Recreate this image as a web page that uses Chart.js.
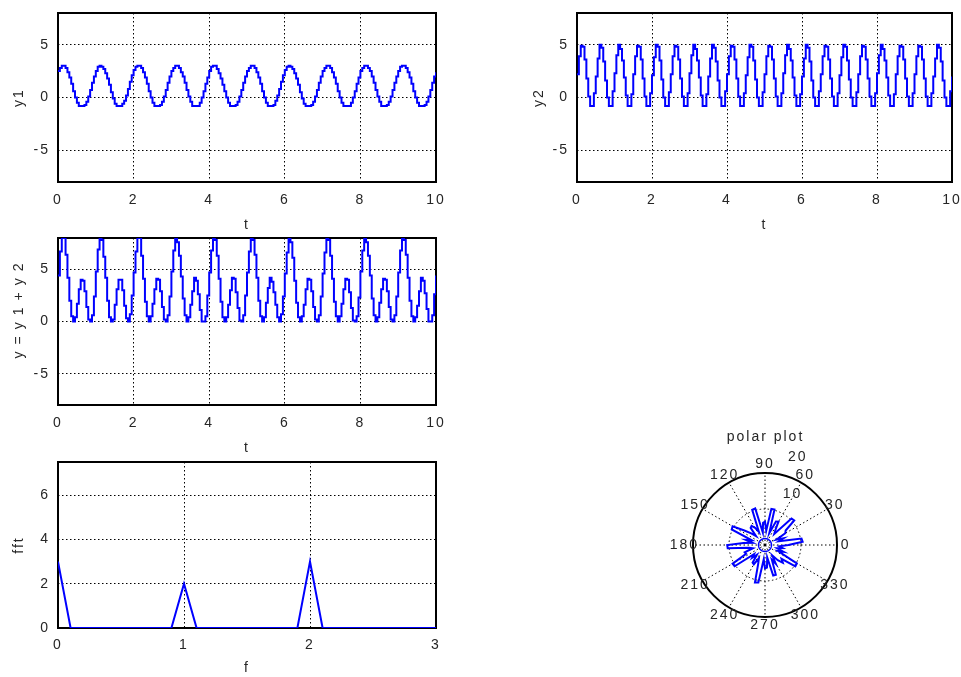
<!DOCTYPE html>
<html><head><meta charset="utf-8">
<script src="https://cdn.jsdelivr.net/npm/chart.js@4.4.1/dist/chart.umd.min.js"></script>
<style>
html,body{margin:0;padding:0;background:#fff;overflow:hidden;}
#wrap{position:relative;width:961px;height:677px;}
canvas{position:absolute;}
</style></head><body><div id="wrap">
<canvas id="c1" width="450" height="235" style="left:0px;top:0px"></canvas>
<canvas id="c2" width="441" height="235" style="left:520px;top:0px"></canvas>
<canvas id="c3" width="450" height="230" style="left:0px;top:228px"></canvas>
<canvas id="c4" width="450" height="225" style="left:0px;top:452px"></canvas>
<canvas id="c5" width="250" height="230" style="left:640px;top:420px"></canvas>
</div>
<script>
// ---------------- data ----------------
const tValues = [
0,0.05,0.1,0.15,0.2,0.25,0.3,0.35,0.4,0.45,0.5,0.55,0.6,0.65,0.7,0.75,0.8,0.85,0.9,0.95,
1,1.05,1.1,1.15,1.2,1.25,1.3,1.35,1.4,1.45,1.5,1.55,1.6,1.65,1.7,1.75,1.8,1.85,1.9,1.95,
2,2.05,2.1,2.15,2.2,2.25,2.3,2.35,2.4,2.45,2.5,2.55,2.6,2.65,2.7,2.75,2.8,2.85,2.9,2.95,
3,3.05,3.1,3.15,3.2,3.25,3.3,3.35,3.4,3.45,3.5,3.55,3.6,3.65,3.7,3.75,3.8,3.85,3.9,3.95,
4,4.05,4.1,4.15,4.2,4.25,4.3,4.35,4.4,4.45,4.5,4.55,4.6,4.65,4.7,4.75,4.8,4.85,4.9,4.95,
5,5.05,5.1,5.15,5.2,5.25,5.3,5.35,5.4,5.45,5.5,5.55,5.6,5.65,5.7,5.75,5.8,5.85,5.9,5.95,
6,6.05,6.1,6.15,6.2,6.25,6.3,6.35,6.4,6.45,6.5,6.55,6.6,6.65,6.7,6.75,6.8,6.85,6.9,6.95,
7,7.05,7.1,7.15,7.2,7.25,7.3,7.35,7.4,7.45,7.5,7.55,7.6,7.65,7.7,7.75,7.8,7.85,7.9,7.95,
8,8.05,8.1,8.15,8.2,8.25,8.3,8.35,8.4,8.45,8.5,8.55,8.6,8.65,8.7,8.75,8.8,8.85,8.9,8.95,
9,9.05,9.1,9.15,9.2,9.25,9.3,9.35,9.4,9.45,9.5,9.55,9.6,9.65,9.7,9.75,9.8,9.85,9.9,9.95,
10];

const y1Values = [
2.5,2.8,3.0,3.0,2.8,2.4,1.9,1.3,0.6,0.0,-0.5,-0.8,-0.8,-0.8,-0.7,-0.4,0.1,0.7,1.4,2.0,
2.5,2.9,3.0,2.9,2.7,2.3,1.8,1.2,0.5,-0.1,-0.6,-0.8,-0.8,-0.8,-0.6,-0.3,0.2,0.8,1.5,2.1,
2.6,2.9,3.0,3.0,2.8,2.4,1.9,1.3,0.6,0.0,-0.5,-0.8,-0.8,-0.8,-0.7,-0.4,0.1,0.7,1.4,2.0,
2.5,2.8,3.0,3.0,2.8,2.4,2.0,1.4,0.7,0.1,-0.4,-0.8,-0.8,-0.8,-0.8,-0.5,0.0,0.6,1.3,1.9,
2.5,2.9,3.0,3.0,2.7,2.3,1.8,1.2,0.6,0.0,-0.5,-0.8,-0.8,-0.8,-0.7,-0.4,0.1,0.7,1.4,2.0,
2.5,2.8,3.0,3.0,2.8,2.4,1.9,1.3,0.6,0.0,-0.5,-0.8,-0.8,-0.8,-0.7,-0.3,0.2,0.8,1.5,2.1,
2.6,2.9,3.0,2.9,2.7,2.3,1.8,1.2,0.5,-0.1,-0.6,-0.8,-0.8,-0.8,-0.7,-0.4,0.1,0.7,1.4,2.0,
2.5,2.8,3.0,3.0,2.8,2.4,1.9,1.3,0.6,0.0,-0.5,-0.8,-0.8,-0.8,-0.8,-0.5,0.0,0.6,1.3,1.9,
2.5,2.8,3.0,3.0,2.8,2.5,2.0,1.4,0.7,0.1,-0.4,-0.8,-0.8,-0.8,-0.7,-0.4,0.1,0.7,1.4,2.0,
2.5,2.9,3.0,3.0,2.8,2.4,1.9,1.3,0.6,0.0,-0.5,-0.8,-0.8,-0.8,-0.7,-0.4,0.1,0.7,1.4,2.0,
2.4];

const y2Values = [
2.2,3.9,4.9,4.8,3.6,1.8,0.1,-0.8,-0.8,0.4, 2.0,3.7,5.0,4.7,3.4,1.6,0.0,-0.8,-0.8,0.6,
2.3,4.0,5.0,4.6,3.5,1.9,0.2,-0.8,-0.8,0.3, 2.2,3.9,4.9,4.8,3.6,1.8,0.1,-0.8,-0.8,0.4,
2.1,3.8,5.0,4.8,3.5,1.7,0.0,-0.8,-0.8,0.5, 2.2,3.9,4.9,4.8,3.6,1.8,0.1,-0.8,-0.8,0.4,
2.3,4.0,5.0,4.6,3.5,1.9,0.2,-0.8,-0.8,0.3, 2.0,3.7,5.0,4.7,3.4,1.6,0.0,-0.8,-0.8,0.6,
2.2,3.9,4.9,4.8,3.6,1.8,0.1,-0.8,-0.8,0.4, 2.1,3.8,5.0,4.8,3.5,1.7,0.0,-0.8,-0.8,0.5,
2.2,3.9,4.9,4.8,3.6,1.8,0.1,-0.8,-0.8,0.4, 2.3,4.0,5.0,4.6,3.5,1.9,0.2,-0.8,-0.8,0.3,
2.0,3.7,5.0,4.7,3.4,1.6,0.0,-0.8,-0.8,0.6, 2.2,3.9,4.9,4.8,3.6,1.8,0.1,-0.8,-0.8,0.4,
2.1,3.8,5.0,4.8,3.5,1.7,0.0,-0.8,-0.8,0.5, 2.2,3.9,4.9,4.8,3.6,1.8,0.1,-0.8,-0.8,0.4,
2.3,4.0,5.0,4.6,3.5,1.9,0.2,-0.8,-0.8,0.3, 2.2,3.9,4.9,4.8,3.6,1.8,0.1,-0.8,-0.8,0.4,
2.2,3.9,4.9,4.8,3.6,1.8,0.1,-0.8,-0.8,0.4, 2.0,3.7,5.0,4.7,3.4,1.6,0.0,-0.8,-0.8,0.6,
2.0];

const ySumValues = [
4.4,6.7,8.0,8.0,6.4,4.2,2.0,0.5,0.0,0.4,1.7,3.1,4.0,3.9,2.9,1.4,0.2,0.0,0.6,2.4,
4.8,6.9,8.0,7.8,6.2,4.2,2.0,0.4,0.0,0.2,1.6,3.1,4.0,4.0,3.0,1.5,0.3,0.0,0.7,2.5,
4.7,6.7,8.0,8.0,6.3,4.1,1.9,0.5,0.0,0.5,1.7,3.1,4.1,4.0,2.9,1.4,0.2,0.0,0.6,2.4,
4.8,6.8,8.0,7.6,6.3,4.3,2.2,0.6,0.0,0.4,1.6,2.9,4.2,3.9,2.6,1.1,0.0,0.0,0.5,2.5,
4.7,6.8,7.9,7.8,6.3,4.1,1.9,0.4,0.0,0.4,1.6,3.0,4.2,4.1,2.8,1.3,0.1,0.0,0.6,2.5,
4.7,6.7,7.9,7.8,6.4,4.2,2.0,0.5,0.0,0.4,1.8,3.2,4.2,3.8,2.8,1.6,0.4,0.0,0.7,2.4,
4.6,6.6,8.0,7.6,6.1,3.9,1.8,0.4,0.0,0.5,1.6,3.1,4.1,4.0,2.9,1.4,0.2,0.0,0.6,2.4,
4.6,6.6,8.0,7.8,6.3,4.1,1.9,0.5,0.0,0.5,1.7,3.1,4.1,4.0,2.8,1.3,0.1,0.0,0.5,2.3,
4.8,6.8,8.0,7.6,6.3,4.4,2.2,0.6,0.0,0.4,1.8,3.1,4.1,4.0,2.9,1.4,0.2,0.0,0.6,2.4,
4.7,6.8,7.9,7.8,6.4,4.2,2.0,0.5,0.0,0.4,1.5,2.9,4.2,3.9,2.7,1.2,0.0,0.0,0.6,2.6,
4.4];

const fValues = [0,0.1,0.2,0.3,0.4,0.5,0.6,0.7,0.8,0.9,1,1.1,1.2,1.3,1.4,1.5,1.6,1.7,1.8,1.9,2,2.1,2.2,2.3,2.4,2.5,2.6,2.7,2.8,2.9,3];
const fftValues = [3,0,0,0,0,0,0,0,0,0,2,0,0,0,0,0,0,0,0,0,3,0,0,0,0,0,0,0,0,0,0];

// polar plot: angle (deg, counter-clockwise from +x) and radius
const polarAngles = [0,5,10,15,20,25,30,35,40,45,50,55,60,65,70,75,80,85,90,95,100,105,110,115,
120,125,130,135,140,145,150,155,160,165,170,175,180,185,190,195,200,205,210,215,220,225,230,235,
240,245,250,255,260,265,270,275,280,285,290,295,300,305,310,315,320,325,330,335,340,345,350,355];
const polarRadius = [
6.5,10.5,10.3,4,5.5,3.5,6.5,7,10.6,10.4,4,5,
7.5,7.2,3.5,10.2,10.2,4,6.5,6.2,3.5,10.5,10.4,4,
5.5,6.5,6.2,3.5,5,7,10.4,10.2,4,5.5,3.5,6,
10.5,10.4,4.5,3.5,6,5.8,10.4,10.3,4,5,3.5,6,
6.2,4,5.5,10.8,10.6,4,6.5,6.3,3.5,8.8,8.8,4.5,
6,3.5,5.5,7,6,10.3,10.2,4,5.5,3.5,5,4];
const polarInner = [1.8,1.8,1.8,1.8,1.8,1.8,1.8,1.8,1.8,1.8,1.8,1.8,1.8,1.8,1.8,1.8,1.8,1.8,1.8,1.8,1.8,1.8,1.8,1.8,
1.8,1.8,1.8,1.8,1.8,1.8,1.8,1.8,1.8,1.8,1.8,1.8,1.8,1.8,1.8,1.8,1.8,1.8,1.8,1.8,1.8,1.8,1.8,1.8,
1.8,1.8,1.8,1.8,1.8,1.8,1.8,1.8,1.8,1.8,1.8,1.8,1.8,1.8,1.8,1.8,1.8,1.8,1.8,1.8,1.8,1.8,1.8,1.8];
const polarAngleLabels = [0,30,60,90,120,150,180,210,240,270,300,330];
const polarRadialTicks = [0,10,20];

const tTicks = [0,2,4,6,8,10];
const yTicks = [-5,0,5];
const fTicks = [0,1,2,3];
const fftTicks = [0,2,4,6];

// ---------------- style ----------------
const BLUE = '#0000ff';
const TXT = '#262626';
const FONT = '"Liberation Sans", Arial, Helvetica, sans-serif';
Chart.defaults.font.family = FONT;
Chart.defaults.font.size = 14;
Chart.defaults.color = TXT;

const spacingPlugin = {
  id: 'spacing',
  beforeDraw(chart) { chart.ctx.letterSpacing = '2px'; }
};
const framePlugin = {
  id: 'frame',
  beforeDatasetsDraw(chart) {
    const a = chart.chartArea, ctx = chart.ctx;
    ctx.save();
    ctx.strokeStyle = '#000';
    ctx.lineWidth = 2;
    ctx.strokeRect(a.left, a.top, a.right - a.left, a.bottom - a.top);
    ctx.restore();
  }
};
function zeroPad(s) { s.paddingLeft = 0; s.paddingRight = 0; s.paddingTop = 0; s.paddingBottom = 0; }

function lineChart(id, xs, ys, o) {
  const pts = xs.map((x, i) => ({x: x, y: ys[i]}));
  return new Chart(document.getElementById(id), {
    type: 'line',
    data: {datasets: [{data: pts, borderColor: BLUE, borderWidth: 2, pointRadius: 0,
      stepped: o.stepped, fill: false, tension: 0}]},
    options: {
      responsive: false, animation: false, devicePixelRatio: 1,
      layout: {padding: o.pad},
      plugins: {legend: {display: false}, tooltip: {enabled: false}},
      scales: {
        x: {type: 'linear', min: o.xmin, max: o.xmax,
          afterBuildTicks: s => { s.ticks = o.xticks.map(v => ({value: v})); },
          afterFit: s => { s.height = o.xh; zeroPad(s); },
          grid: {color: '#000', lineWidth: 1, drawTicks: false},
          border: {display: false, dash: [1.5, 2.5]},
          ticks: {padding: o.xpad, color: TXT, maxRotation: 0, autoSkip: false},
          title: {display: true, text: o.xlabel, color: TXT, padding: {top: 0, bottom: o.xtpad}}},
        y: {type: 'linear', min: o.ymin, max: o.ymax,
          afterBuildTicks: s => { s.ticks = o.yticks.map(v => ({value: v})); },
          afterFit: s => { s.width = o.yw; zeroPad(s); },
          afterUpdate: s => {
            if (s._wrapped) return;
            s._wrapped = true;
            const orig = Object.getPrototypeOf(s).drawTitle;
            s.drawTitle = function () {
              this.ctx.save();
              this.ctx.letterSpacing = o.ySpacing || '2px';
              this.ctx.translate(0, o.yShift || 0);
              orig.call(this);
              this.ctx.restore();
            };
          },
          grid: {color: '#000', lineWidth: 1, drawTicks: false},
          border: {display: false, dash: [1.5, 2.5]},
          ticks: {padding: 8, color: TXT},
          title: {display: true, text: o.ylabel, color: TXT, padding: {top: 10.5, bottom: 0}}}
      }
    },
    plugins: [spacingPlugin, framePlugin]
  });
}

lineChart('c1', tValues, y1Values, {pad: {left: 0, top: 13, right: 14, bottom: 0}, xh: 53, yw: 58,
  xmin: 0, xmax: 10, ymin: -8, ymax: 8, xticks: tTicks, yticks: yTicks, xpad: 10, xtpad: 1.6,
  xlabel: 't', ylabel: 'y1', stepped: true});
lineChart('c2', tValues, y2Values, {pad: {left: 0, top: 13, right: 9, bottom: 0}, xh: 53, yw: 57,
  xmin: 0, xmax: 10, ymin: -8, ymax: 8, xticks: tTicks, yticks: yTicks, xpad: 10, xtpad: 1.6,
  xlabel: 't', ylabel: 'y2', stepped: true});
lineChart('c3', tValues, ySumValues, {pad: {left: 0, top: 10, right: 14, bottom: 0}, xh: 53, yw: 58,
  xmin: 0, xmax: 10, ymin: -8, ymax: 8, xticks: tTicks, yticks: yTicks, xpad: 10, xtpad: 1.6,
  xlabel: 't', ylabel: 'y=y1+y2', stepped: true, ySpacing: '7px', yShift: -14});
lineChart('c4', fValues, fftValues, {pad: {left: 0, top: 10, right: 14, bottom: 0}, xh: 49, yw: 58,
  xmin: 0, xmax: 3, ymin: 0, ymax: 7.5, xticks: fTicks, yticks: fftTicks, xpad: 8.6, xtpad: 0,
  xlabel: 'f', ylabel: 'fft', stepped: false});

// ---------------- polar (radar on a radial linear scale) ----------------
const N = polarAngles.length;
const order = polarAngles.map((_, j) => (N - j) % N);   // counter-clockwise starting at 0 deg (right)
const radarLabels = order.map(k => polarAngles[k]);
const radarR = order.map(k => polarRadius[k]);
const radarInner = order.map(k => polarInner[k]);
const isMajor = idx => polarAngleLabels.includes(radarLabels[idx]);

const polarTextPlugin = {
  id: 'polarText',
  afterDraw(chart) {
    const s = chart.scales.r, ctx = chart.ctx;
    ctx.save();
    ctx.letterSpacing = '2px';
    ctx.font = '14px ' + FONT;
    ctx.fillStyle = TXT;
    ctx.textAlign = 'center';
    ctx.textBaseline = 'middle';
    const dLab = s.drawingArea * 1.12;
    polarAngleLabels.forEach(a => {
      const idx = radarLabels.indexOf(a);
      const p = s.getPointPosition(idx, dLab);
      ctx.fillText(String(a), p.x, p.y);
    });
    ctx.textAlign = 'left';
    const ang = 82 * Math.PI / 180;
    polarRadialTicks.slice(1).forEach(v => {
      const d = s.getDistanceFromCenterForValue(v * 1.05);
      ctx.fillText(String(v), s.xCenter + d * Math.cos(ang) + 12.5, s.yCenter - d * Math.sin(ang) - 13);
    });
    ctx.restore();
  }
};

new Chart(document.getElementById('c5'), {
  type: 'radar',
  data: {labels: radarLabels, datasets: [
    {data: radarR, borderColor: BLUE, borderWidth: 2, pointRadius: 0, fill: false, tension: 0},
    {data: radarInner, borderColor: BLUE, borderWidth: 1.5, pointRadius: 0, fill: false, tension: 0}
  ]},
  options: {
    responsive: false, animation: false, devicePixelRatio: 1,
    layout: {padding: {left: 53, right: 52, top: 0, bottom: 32}},
    plugins: {legend: {display: false}, tooltip: {enabled: false},
      title: {display: true, text: 'polar plot', color: TXT, font: {size: 14, weight: 'normal'},
        padding: {top: 8.6, bottom: 27.6}}},
    scales: {r: {
      min: 0, max: 20, startAngle: 90,
      afterBuildTicks: s => { s.ticks = polarRadialTicks.map(v => ({value: v})); },
      ticks: {display: false},
      grid: {circular: true, color: '#000', lineWidth: c => (c.tick && c.tick.value === 20) ? 2 : 1},
      border: {dash: c => (c.tick && c.tick.value === 20) ? [] : [1.5, 2.5]},
      angleLines: {color: c => isMajor(c.index) ? '#000' : 'rgba(0,0,0,0)',
        lineWidth: c => isMajor(c.index) ? 1 : 0, borderDash: [1.5, 2.5]},
      pointLabels: {display: false}
    }}
  },
  plugins: [spacingPlugin, polarTextPlugin]
});
</script>
</body></html>
